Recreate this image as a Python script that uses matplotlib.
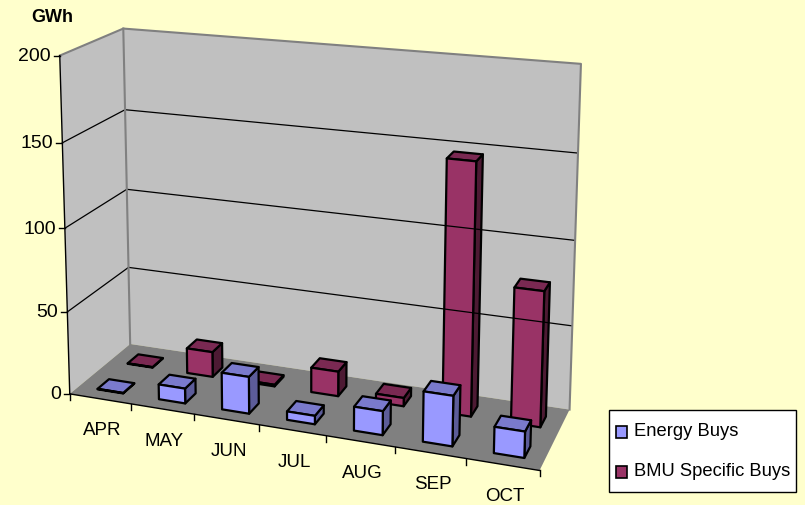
import numpy as np
import matplotlib
matplotlib.use('Agg')
import matplotlib.pyplot as plt
from matplotlib.patches import Polygon, Rectangle

months = ['APR', 'MAY', 'JUN', 'JUL', 'AUG', 'SEP', 'OCT']
energy_buys = [0.3, 9, 22, 5, 14, 29, 15]
bmu_buys = [0.3, 15.5, 1, 15, 5, 148, 79]
y_ticks = [0, 50, 100, 150, 200]

BG = '#FFFFCC'
WALL = '#C0C0C0'
FLOOR = '#808080'
ENERGY = ('#9999FF', '#7A7ACC', '#5C5C99')
BMU = ('#993366', '#7A2952', '#4D1A33')

BAR_W = 0.42
BAR_D = 0.185
BAR_SHIFT = 0.02

plt.rcParams['font.family'] = ['Liberation Sans', 'DejaVu Sans']

# pixel positions of the plot box corners, used to fit the perspective
box_cat = [0, 0, 0, 0, 7, 7, 7]
box_dep = [0, 0, 1, 1, 1, 1, 0]
box_val = [0, 200, 0, 200, 200, 0, 0]
box_px = [70, 60, 130, 123, 581, 570, 539]
box_py = [395, 56, 345, 30, 65, 410, 472]


def fit_camera():
    rows, rhs = [], []
    for c, d, v, px, py in zip(box_cat, box_dep, box_val, box_px, box_py):
        v = v / 200
        rows.append([c, d, v, 1, 0, 0, 0, 0, -px * c, -px * d, -px * v])
        rhs.append(px)
        rows.append([0, 0, 0, 0, c, d, v, 1, -py * c, -py * d, -py * v])
        rhs.append(py)
    m = np.linalg.lstsq(np.array(rows, float), np.array(rhs, float), rcond=None)[0]
    return np.append(m, 1).reshape(3, 4)


CAM = fit_camera()


def proj(c, d, v):
    p = CAM @ np.array([c, d, v / 200, 1])
    return p[0] / p[2], p[1] / p[2]


def draw_bar(ax, cat, dep, val, colors):
    mid = cat + 0.5 + BAR_SHIFT
    c0, c1 = mid - BAR_W / 2, mid + BAR_W / 2
    d0, d1 = dep - BAR_D / 2, dep + BAR_D / 2
    side = [proj(c1, d0, 0), proj(c1, d1, 0), proj(c1, d1, val), proj(c1, d0, val)]
    top = [proj(c0, d0, val), proj(c1, d0, val), proj(c1, d1, val), proj(c0, d1, val)]
    front = [proj(c0, d0, 0), proj(c1, d0, 0), proj(c1, d0, val), proj(c0, d0, val)]
    for pts, col in zip([side, top, front], [colors[2], colors[1], colors[0]]):
        ax.add_patch(Polygon(pts, closed=True, fc=col, ec='black', lw=1.6, joinstyle='round'))


fig = plt.figure(figsize=(8.05, 5.06), dpi=100, facecolor=BG)
ax = fig.add_axes([0, 0, 1, 1])
ax.set_xlim(0, 805)
ax.set_ylim(506, 0)
ax.axis('off')

n = len(months)
ax.add_patch(Polygon([proj(0, 0, 0), proj(0, 1, 0), proj(0, 1, 200), proj(0, 0, 200)], fc=WALL, ec='none'))
ax.add_patch(Polygon([proj(0, 1, 0), proj(n, 1, 0), proj(n, 1, 200), proj(0, 1, 200)], fc=WALL, ec='none'))
ax.add_patch(Polygon([proj(0, 0, 0), proj(n, 0, 0), proj(n, 1, 0), proj(0, 1, 0)], fc=FLOOR, ec='none'))

# gridlines across both walls
for v in y_ticks[1:-1]:
    pts = np.array([proj(0, 0, v), proj(0, 1, v), proj(n, 1, v)])
    ax.plot(pts[:, 0], pts[:, 1], color='black', lw=0.9)

# grey wall outline
pts = np.array([proj(0, 0, 200), proj(0, 1, 200), proj(n, 1, 200), proj(n, 1, 0)])
ax.plot(pts[:, 0], pts[:, 1], color='#808080', lw=1.5)
pts = np.array([proj(0, 1, 200), proj(0, 1, 0)])
ax.plot(pts[:, 0], pts[:, 1], color='#808080', lw=1.5)

# axis lines and ticks
pts = np.array([proj(0, 0, 0), proj(0, 0, 200)])
ax.plot(pts[:, 0], pts[:, 1], color='black', lw=1)
pts = np.array([proj(0, 0, 0), proj(n, 0, 0)])
ax.plot(pts[:, 0], pts[:, 1], color='black', lw=1)
for v in y_ticks:
    x, y = proj(0, 0, v)
    ax.plot([x - 6, x], [y, y], color='black', lw=1)
    ax.text(x - 9, y, str(v), ha='right', va='center', fontsize=14, color='black')
for i in range(n + 1):
    x, y = proj(i, 0, 0)
    ax.plot([x, x], [y, y + 6], color='black', lw=1)
for i, m in enumerate(months):
    x, y = proj(i + 0.5, 0, 0)
    ax.text(x + 2, y + 31, m, ha='center', va='center', fontsize=13.5, color='black')

# back row first, then the front row
for depth, vals, colors in [(0.735, bmu_buys, BMU), (0.235, energy_buys, ENERGY)]:
    for i in range(n - 1, -1, -1):
        draw_bar(ax, i, depth, vals[i], colors)

ax.text(52, 17, 'GWh', ha='center', va='center', fontsize=13, fontweight='bold', color='black')

# legend
ax.add_patch(Rectangle((609, 411), 187, 82, fc='white', ec='black', lw=1))
for yy, col, label in [(433, ENERGY[0], 'Energy Buys'), (473, BMU[0], 'BMU Specific Buys')]:
    ax.add_patch(Rectangle((616, yy - 6), 11, 12, fc=col, ec='black', lw=1.2))
    ax.text(634, yy - 1, label, ha='left', va='center', fontsize=13.2, color='black')

fig.savefig('out.png', dpi=100, facecolor=BG)
